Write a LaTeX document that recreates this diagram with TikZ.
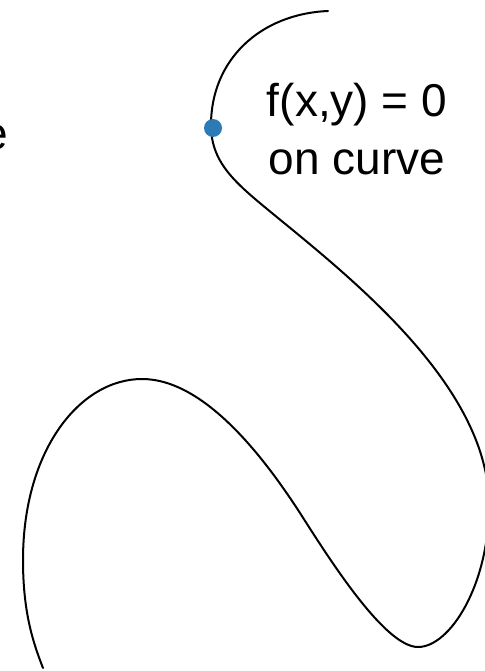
\documentclass[tikz,border=0pt]{standalone}
\usepackage{fontspec}
\setmainfont{Liberation Sans}
\usetikzlibrary{positioning}
\definecolor{dotblue}{RGB}{44,123,182}

\begin{document}
\begin{tikzpicture}[x=1bp,y=-1bp,
curve/.style={draw=black,line width=2bp,line cap=round},
lab/.style={font=\fontsize{46bp}{57bp}\selectfont,inner sep=0pt,anchor=base},
pointdot/.style={circle,fill=dotblue,inner sep=0pt,minimum size=18bp}]
\useasboundingbox (0,0) rectangle (485,671);
\draw[curve] (328,11) .. controls (260,14) and (211,60) .. (211,125)
  .. controls (211,165) and (238,185) .. (278,218)
  .. controls (360,285) and (489,390) .. (489,505)
  .. controls (489,585) and (450,647) .. (418,647)
  .. controls (385,647) and (330,560) .. (300,513)
  .. controls (265,459) and (205,379) .. (142,379)
  .. controls (80,379) and (23,450) .. (23,560)
  .. controls (23,610) and (32,640) .. (43,668);
\node[pointdot] (pt) at (213,128) {};
\node[lab] (eq) at (357,117) {f(x,y) = 0};
\node[lab] (oncurve) at (357,174) {on curve};
\node[lab,anchor=base east] (cut) at (8,149) {e};
\end{tikzpicture}
\end{document}
